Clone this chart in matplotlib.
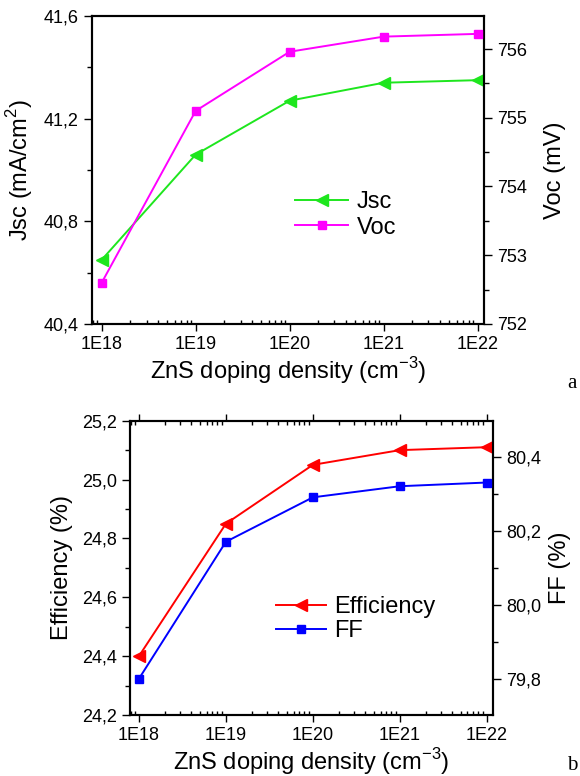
import numpy as np
import matplotlib
matplotlib.use("Agg")
import matplotlib.pyplot as plt
from matplotlib.ticker import LogLocator, FuncFormatter, MultipleLocator, NullFormatter

plt.rcParams['font.family'] = ['Liberation Sans', 'DejaVu Sans']
plt.rcParams['mathtext.fontset'] = 'custom'
plt.rcParams['mathtext.rm'] = 'Liberation Sans'

# doping density of ZnS (cm^-3)
doping = [1e18, 1e19, 1e20, 1e21, 1e22]

jsc = [40.65, 41.06, 41.27, 41.34, 41.35]          # mA/cm2
voc = [752.60, 755.10, 755.96, 756.18, 756.22]      # mV
eff = [24.40, 24.85, 25.05, 25.10, 25.11]           # %
ff = [79.80, 80.17, 80.29, 80.32, 80.33]            # %

tick_fs = 13
label_fs = 17


def comma(fmt):
    return FuncFormatter(lambda v, p: (fmt % v).replace('.', ','))


def exp_fmt(v, p):
    return "1E%d" % int(round(np.log10(v)))


def style_x(ax):
    ax.set_xscale('log')
    ax.set_xlim(10**17.897, 10**22.068)
    ax.xaxis.set_major_locator(LogLocator(base=10, numticks=10))
    ax.xaxis.set_minor_locator(LogLocator(base=10, subs=np.arange(2, 10), numticks=20))
    ax.xaxis.set_major_formatter(FuncFormatter(exp_fmt))
    ax.xaxis.set_minor_formatter(NullFormatter())
    ax.tick_params(axis='x', which='major', direction='out', length=5, width=1, labelsize=tick_fs)
    ax.tick_params(axis='x', which='minor', direction='in', length=3, width=1)
    ax.set_xlabel('ZnS doping density (cm$^{\\mathregular{-3}}$)', fontsize=label_fs, labelpad=2)


def style_y(ax):
    ax.tick_params(axis='y', which='major', direction='out', length=6, width=1, labelsize=tick_fs)
    ax.tick_params(axis='y', which='minor', direction='out', length=3.5, width=1)
    for s in ax.spines.values():
        s.set_linewidth(1.5)


fig = plt.figure(figsize=(5.8, 7.76), dpi=100)

# ---- panel a ----
ax1 = fig.add_axes([92/580, 1-324/776, 392/580, 308/776])
ax1r = ax1.twinx()
l1, = ax1.plot(doping, jsc, color='#1ee61e', lw=1.4, marker='<', ms=8.5,
               label='Jsc', zorder=3)
l2, = ax1r.plot(doping, voc, color='#ff00ff', lw=1.4, marker='s', ms=6,
                label='Voc', zorder=3)
style_x(ax1)
ax1.set_ylim(40.4, 41.6)
ax1.yaxis.set_major_locator(MultipleLocator(0.4))
ax1.yaxis.set_minor_locator(MultipleLocator(0.2))
ax1.yaxis.set_major_formatter(comma('%.1f'))
style_y(ax1)
ax1r.set_ylim(752, 756.48)
ax1r.yaxis.set_major_locator(MultipleLocator(1))
ax1r.yaxis.set_minor_locator(MultipleLocator(0.5))
style_y(ax1r)
ax1.set_ylabel('Jsc (mA/cm$^{2}$)', fontsize=label_fs, labelpad=6)
ax1r.set_ylabel('Voc (mV)', fontsize=label_fs, labelpad=12)
ax1.legend(handles=[l1, l2], loc='center left', bbox_to_anchor=(0.518, 0.354),
           frameon=False, fontsize=label_fs, borderpad=0, borderaxespad=0,
           handlelength=2.25, handletextpad=0.35, labelspacing=0.15)
fig.text(572/580, 1-383/776, 'a', family='Liberation Serif', fontsize=15,
         ha='center', va='center')

# ---- panel b ----
ax2 = fig.add_axes([130/580, 1-715/776, 362.7/580, 294.3/776])
ax2r = ax2.twinx()
l3, = ax2.plot(doping, eff, color='#ff0000', lw=1.4, marker='<', ms=8.5,
               label='Efficiency', zorder=3)
l4, = ax2r.plot(doping, ff, color='#0000ff', lw=1.4, marker='s', ms=6,
                label='FF', zorder=3)
style_x(ax2)
ax2.tick_params(axis='x', which='both', top=True)
ax2.set_ylim(24.2, 25.2)
ax2.yaxis.set_major_locator(MultipleLocator(0.2))
ax2.yaxis.set_minor_locator(MultipleLocator(0.1))
ax2.yaxis.set_major_formatter(comma('%.1f'))
style_y(ax2)
ax2r.set_ylim(79.702, 80.497)
ax2r.yaxis.set_major_locator(MultipleLocator(0.2))
ax2r.yaxis.set_minor_locator(MultipleLocator(0.1))
ax2r.yaxis.set_major_formatter(comma('%.1f'))
style_y(ax2r)
ax2.set_ylabel('Efficiency (%)', fontsize=label_fs, labelpad=6)
ax2r.set_ylabel('FF (%)', fontsize=label_fs, labelpad=6)
ax2.legend(handles=[l3, l4], loc='center left', bbox_to_anchor=(0.4025, 0.326),
           frameon=False, fontsize=label_fs, borderpad=0, borderaxespad=0,
           handlelength=2.1, handletextpad=0.38, labelspacing=0.1)
fig.text(572/580, 1-765/776, 'b', family='Liberation Serif', fontsize=15,
         ha='center', va='center')

fig.savefig('out.png', dpi=100)
